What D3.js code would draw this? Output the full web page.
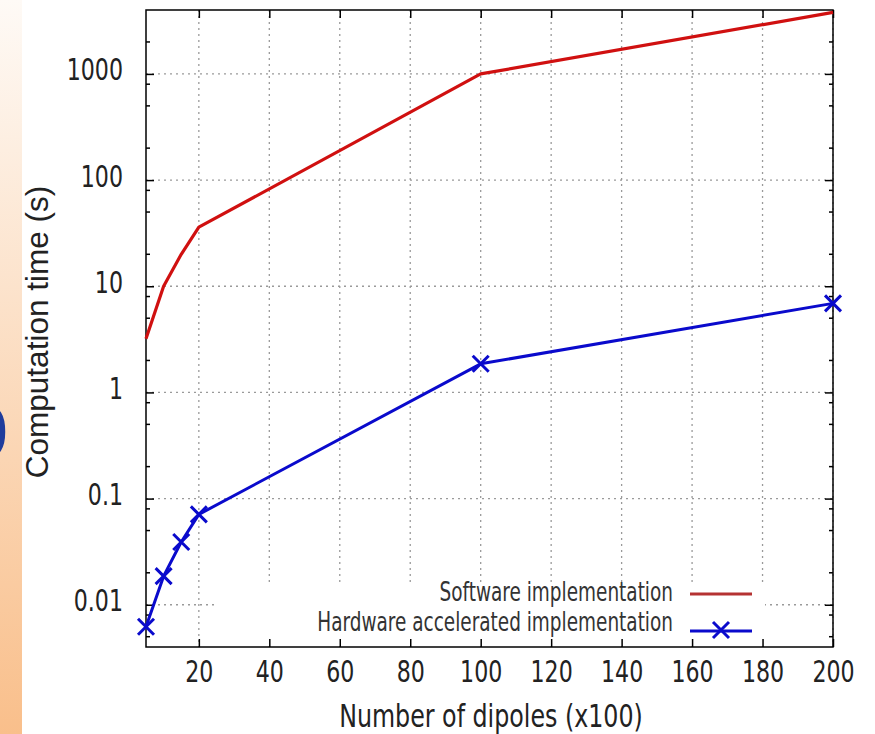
<!DOCTYPE html>
<html>
<head>
<meta charset="utf-8">
<script src="https://cdn.jsdelivr.net/npm/d3@7"></script>
<style>
  html, body { margin: 0; padding: 0; background: #ffffff; }
  svg { display: block; }
</style>
</head>
<body>
<svg id="chart" width="875" height="734"></svg>
<script>
// ---- Data ----
const xTicks = [20, 40, 60, 80, 100, 120, 140, 160, 180, 200];
const yTicks = [0.01, 0.1, 1, 10, 100, 1000];
const yMinorMultipliers = [2, 5, 8];
const softwareX = [5, 10, 15, 20, 100, 200];
const softwareY = [3.2, 10, 20, 36, 1000, 3800];
const hardwareX = [5, 10, 15, 20, 100, 200];
const hardwareY = [0.0062, 0.0186, 0.039, 0.071, 1.86, 6.9];
const seriesNames = ["Software implementation", "Hardware accelerated implementation"];
const xTitle = "Number of dipoles (x100)";
const yTitle = "Computation time (s)";

// ---- Layout ----
const svg = d3.select("#chart");
const L = 146, R = 833, T = 10, B = 647;
const cond = "'DejaVu Sans Condensed', 'DejaVu Sans', sans-serif";
const SX = 0.82;

const x = d3.scaleLinear().domain([5, 200]).range([L, R]);
const y = d3.scaleLog().domain([0.004, 4000]).range([B, T]);

// Left decorative slide strip
const defs = svg.append("defs");
const grad = defs.append("linearGradient").attr("id", "strip")
  .attr("x1", 0).attr("y1", 0).attr("x2", 0).attr("y2", 1);
grad.append("stop").attr("offset", "0%").attr("stop-color", "#fefaf6");
grad.append("stop").attr("offset", "100%").attr("stop-color", "#f9bf8b");
svg.append("rect").attr("x", 0).attr("y", 0).attr("width", 22).attr("height", 734)
  .attr("fill", "url(#strip)");
svg.append("text").attr("x", -32).attr("y", 457)
  .attr("font-family", "'Liberation Sans', sans-serif").attr("font-size", 72)
  .attr("fill", "#1f3c9c").text("0");

// Grid
const grid = svg.append("g").attr("stroke", "#9a9a9a").attr("stroke-width", 1.3)
  .attr("stroke-dasharray", "2,4");
grid.selectAll("line.gx").data(xTicks).join("line")
  .attr("x1", d => x(d)).attr("x2", d => x(d)).attr("y1", T).attr("y2", B);
grid.selectAll("line.gy").data(yTicks).join("line")
  .attr("x1", L).attr("x2", R).attr("y1", d => y(d)).attr("y2", d => y(d));

// Legend box (hides grid)
svg.append("rect").attr("x", 215).attr("y", 582).attr("width", 550).attr("height", 62)
  .attr("fill", "#ffffff");

// Axes
function styleAxis(g) {
  g.select(".domain").remove();
  g.selectAll(".tick line").attr("stroke", "#000").attr("stroke-width", 1.5);
}
svg.append("g").attr("transform", `translate(0,${B})`)
  .call(d3.axisBottom(x).tickValues(xTicks).tickFormat(d => d).tickSize(-8).tickPadding(14))
  .call(styleAxis)
  .call(g => g.selectAll("text").attr("font-family", cond).attr("font-size", 30)
    .attr("fill", "#222").attr("transform", `scale(${SX},1)`));
svg.append("g").attr("transform", `translate(0,${T})`)
  .call(d3.axisTop(x).tickValues(xTicks).tickFormat("").tickSize(-8))
  .call(styleAxis);
svg.append("g").attr("transform", `translate(${L},0)`)
  .call(d3.axisLeft(y).tickValues(yTicks).tickFormat(d => String(d)).tickSize(-8).tickPadding(23))
  .call(styleAxis)
  .call(g => g.selectAll("text").attr("font-family", cond).attr("font-size", 30)
    .attr("fill", "#222").attr("dy", "0.2em").attr("x", -23 / SX)
    .attr("transform", `scale(${SX},1)`));
svg.append("g").attr("transform", `translate(${R},0)`)
  .call(d3.axisRight(y).tickValues(yTicks).tickFormat("").tickSize(-8))
  .call(styleAxis);

// Minor y ticks
const minorVals = [];
[0.001, 0.01, 0.1, 1, 10, 100, 1000].forEach(dec => yMinorMultipliers.forEach(m => {
  const v = dec * m;
  if (v > y.domain()[0] && v < y.domain()[1]) minorVals.push(v);
}));
const minor = svg.append("g").attr("stroke", "#000").attr("stroke-width", 1.5);
minor.selectAll("line.ml").data(minorVals).join("line")
  .attr("x1", L).attr("x2", L + 4).attr("y1", d => y(d)).attr("y2", d => y(d));
minor.selectAll("line.mr").data(minorVals).join("line")
  .attr("x1", R).attr("x2", R - 4).attr("y1", d => y(d)).attr("y2", d => y(d));

// Frame
svg.append("rect").attr("x", L).attr("y", T).attr("width", R - L).attr("height", B - T)
  .attr("fill", "none").attr("stroke", "#000").attr("stroke-width", 1.5);

// Series
const line = d3.line().x(d => x(d[0])).y(d => y(d[1]));
const sw = softwareX.map((v, i) => [v, softwareY[i]]);
const hw = hardwareX.map((v, i) => [v, hardwareY[i]]);
svg.append("path").datum(sw).attr("d", line).attr("fill", "none")
  .attr("stroke", "#d01010").attr("stroke-width", 3.2).attr("stroke-linejoin", "round");
svg.append("path").datum(hw).attr("d", line).attr("fill", "none")
  .attr("stroke", "#0a0acc").attr("stroke-width", 3).attr("stroke-linejoin", "round");

function cross(g, cx, cy, s) {
  g.append("path").attr("d", `M${cx - s},${cy - s}L${cx + s},${cy + s}M${cx - s},${cy + s}L${cx + s},${cy - s}`)
    .attr("stroke", "#0a0acc").attr("stroke-width", 3).attr("fill", "none");
}
const marks = svg.append("g");
hw.forEach(d => cross(marks, x(d[0]), y(d[1]), 8));

// Legend
const leg = svg.append("g");
function legText(tx, ty, s) {
  leg.append("g").attr("transform", `translate(${tx},${ty}) scale(0.79,1)`)
    .append("text").attr("text-anchor", "end")
    .attr("font-family", cond).attr("font-size", 26).attr("fill", "#333").text(s);
}
legText(673, 601, seriesNames[0]);
legText(673, 631, seriesNames[1]);
leg.append("line").attr("x1", 690).attr("x2", 752).attr("y1", 594).attr("y2", 594)
  .attr("stroke", "#b53232").attr("stroke-width", 3);
leg.append("line").attr("x1", 690).attr("x2", 752).attr("y1", 631).attr("y2", 631)
  .attr("stroke", "#0a0acc").attr("stroke-width", 3);
cross(leg, 721, 630, 8);

// Axis titles
svg.append("g").attr("transform", "translate(491,727) scale(0.825,1)")
  .append("text").attr("text-anchor", "middle")
  .attr("font-family", cond).attr("font-size", 32).attr("fill", "#222").text(xTitle);
svg.append("text").attr("transform", "translate(48,332) rotate(-90)").attr("text-anchor", "middle")
  .attr("font-family", "'Liberation Sans', sans-serif").attr("font-size", 31.5).attr("fill", "#222")
  .text(yTitle);
</script>
</body>
</html>
